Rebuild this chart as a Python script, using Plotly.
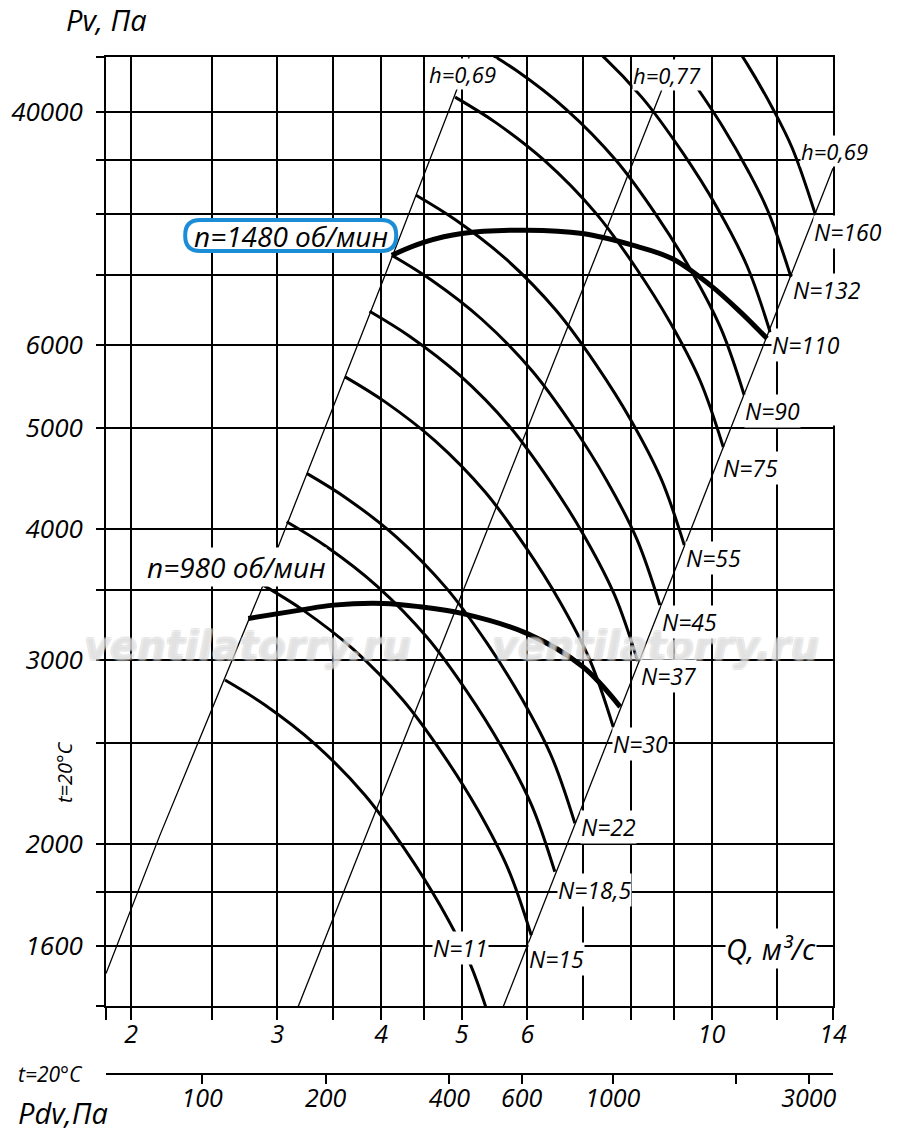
import plotly.graph_objects as go

# ---------------- axis values ----------------
q_ticks = [1.866, 2, 2.5, 3, 3.5, 4, 4.5, 5, 6, 7, 8, 9, 10, 12, 14]
q_labels = ["", "2", "", "3", "", "4", "", "5", "6", "", "", "", "10", "", "14"]
pv_ticks = [1400, 1600, 1800, 2000, 2500, 3000, 3500, 4000, 5000, 6000, 7000, 8000, 9000, 10000, 11294]
pv_labels = ["", "1600", "", "2000", "", "3000", "", "4000", "5000", "6000", "", "", "", "40000", ""]
pdv_ticks = [100, 200, 400, 600, 1000, 2000, 3000]
pdv_labels = ["100", "200", "400", "600", "1000", "", "3000"]

# ---------------- efficiency (h) lines ----------------
h_left_q = [1.866, 2.167, 2.884, 4.022, 4.844, 5.106]
h_left_p = [1505, 2040, 3535, 6912, 10112, 11294]
h_mid_q = [3.18, 9.03]
h_mid_p = [1400, 11294]
h_right_q = [5.615, 14.0]
h_right_p = [1400, 8844]

# ---------------- fan curves (Q m3/s, Pv Pa) ----------------
q_n11 = [2.595, 2.899, 3.331, 3.826, 4.275, 4.711, 5.120, 5.457]
p_n11 = [2869, 2716, 2492, 2227, 1976, 1748, 1537, 1329]
q_n15 = [2.884, 3.222, 3.702, 4.252, 4.751, 5.236, 5.690, 6.065]
p_n15 = [3535, 3346, 3071, 2744, 2435, 2153, 1893, 1637]
q_n185 = [3.079, 3.440, 3.952, 4.540, 5.073, 5.590, 6.075, 6.475]
p_n185 = [4064, 3847, 3530, 3154, 2799, 2475, 2177, 1882]
q_n22 = [3.255, 3.637, 4.178, 4.800, 5.363, 5.909, 6.422, 6.845]
p_n22 = [4520, 4278, 3927, 3508, 3113, 2753, 2421, 2094]
q_n30 = [3.620, 4.045, 4.647, 5.338, 5.964, 6.572, 7.142, 7.612]
p_n30 = [5589, 5290, 4855, 4338, 3849, 3404, 2993, 2589]
q_n37 = [3.874, 4.328, 4.973, 5.712, 6.382, 7.033, 7.643, 8.147]
p_n37 = [6457, 6112, 5609, 5011, 4447, 3933, 3458, 2991]
q_n45 = [4.120, 4.603, 5.288, 6.075, 6.788, 7.479, 8.128, 8.664]
p_n45 = [7303, 6912, 6344, 5668, 5030, 4448, 3911, 3383]
q_n55 = [4.408, 4.925, 5.658, 6.500, 7.262, 8.002, 8.697, 9.270]
p_n55 = [8333, 7887, 7239, 6467, 5739, 5076, 4463, 3860]
q_n75 = [4.911, 5.487, 6.304, 7.241, 8.091, 8.915, 9.689, 10.327]
p_n75 = [10340, 9787, 8982, 8025, 7121, 6298, 5538, 4790]
q_n90 = [5.205, 5.816, 6.681, 7.675, 8.575, 9.449, 10.269, 10.946]
p_n90 = [11588, 10968, 10066, 8994, 7981, 7058, 6207, 5368]
q_n110 = [5.594, 6.250, 7.181, 8.248, 9.216, 10.155, 11.036, 11.764]
p_n110 = [13309, 12597, 11562, 10329, 9166, 8107, 7128, 6165]
q_n132 = [9.628, 10.317, 11.059, 11.689, 12.460]
p_n132 = [10526, 9684, 8800, 8050, 6962]
q_n160 = [10.443, 11.038, 11.832, 12.506, 13.330]
p_n160 = [11883, 11118, 10102, 9241, 7992]

# ---------------- speed lines ----------------
q_n1480 = [4.120, 4.519, 5.003, 5.992, 6.990, 8.031, 8.958, 9.961, 10.826, 11.658]
p_n1480 = [7303, 7520, 7660, 7716, 7660, 7466, 7250, 6838, 6448, 6081]
q_n980 = [2.768, 3.195, 3.504, 4.025, 4.457, 5.003, 5.992, 6.998, 7.761]
p_n980 = [3285, 3346, 3383, 3396, 3371, 3322, 3179, 2954, 2705]

fan_curves = [
    (q_n11, p_n11), (q_n15, p_n15), (q_n185, p_n185), (q_n22, p_n22),
    (q_n30, p_n30), (q_n37, p_n37), (q_n45, p_n45), (q_n55, p_n55),
    (q_n75, p_n75), (q_n90, p_n90), (q_n110, p_n110), (q_n132, p_n132),
    (q_n160, p_n160),
]

FONT = "Open Sans"
BLUE = "#1b8dd6"

fig = go.Figure()

for qq, pp in [(h_left_q, h_left_p), (h_mid_q, h_mid_p), (h_right_q, h_right_p)]:
    fig.add_trace(go.Scatter(x=qq, y=pp, mode="lines",
                             line=dict(color="black", width=1.3),
                             hoverinfo="skip", showlegend=False))

for qq, pp in fan_curves:
    fig.add_trace(go.Scatter(x=qq, y=pp, mode="lines",
                             line=dict(color="black", width=3, shape="spline", smoothing=1.0),
                             hoverinfo="skip", showlegend=False))

for qq, pp in [(q_n1480, p_n1480), (q_n980, p_n980)]:
    fig.add_trace(go.Scatter(x=qq, y=pp, mode="lines",
                             line=dict(color="black", width=5, shape="spline", smoothing=1.0),
                             hoverinfo="skip", showlegend=False))

# helper trace that carries the dynamic-pressure scale
fig.add_trace(go.Scatter(x=pdv_ticks, y=[pv_ticks[0]] * len(pdv_ticks), xaxis="x2", yaxis="y",
                         mode="markers", marker=dict(opacity=0, size=1),
                         hoverinfo="skip", showlegend=False))

# ---------------- layout geometry (pixels -> paper) ----------------
W, H = 900, 1135
ML, MR, MT, MB = 106, 67, 57, 61
PW = W - ML - MR
PH = H - MT - MB
plot_bottom_px = 1006.3


def px(x):
    return (x - ML) / PW


def py(y):
    return (H - MB - y) / PH


tick_font = dict(family=FONT, size=25, color="black", style="italic")

fig.update_layout(
    width=W, height=H,
    margin=dict(l=ML, r=MR, t=MT, b=MB),
    paper_bgcolor="white", plot_bgcolor="white",
    showlegend=False,
    xaxis=dict(
        type="log", range=[0.27091, 1.14613],
        domain=[0, 1], anchor="y",
        tickmode="array", tickvals=q_ticks, ticktext=q_labels,
        ticks="outside", ticklen=12, tickwidth=1.5, tickcolor="black",
        showgrid=True, gridcolor="black", gridwidth=1.5,
        showline=True, linecolor="black", linewidth=2, mirror=True,
        zeroline=False, tickfont=tick_font, ticklabelstandoff=-7,
    ),
    yaxis=dict(
        type="log", range=[3.14613, 4.05285],
        domain=[py(plot_bottom_px), 1],
        tickmode="array", tickvals=pv_ticks, ticktext=pv_labels,
        ticks="outside", ticklen=8, tickwidth=1.5, tickcolor="black",
        showgrid=True, gridcolor="black", gridwidth=1.5,
        showline=True, linecolor="black", linewidth=2, mirror=True,
        zeroline=False, tickfont=dict(family=FONT, size=26, color="black", style="italic"),
        ticklabelstandoff=8,
    ),
    xaxis2=dict(
        type="log", range=[1.7661, 3.5364],
        overlaying="x", anchor="free", position=0, side="bottom",
        tickmode="array", tickvals=pdv_ticks, ticktext=pdv_labels,
        ticks="outside", ticklen=9, tickwidth=1.5, tickcolor="black",
        showgrid=False, showline=True, linecolor="black", linewidth=2,
        zeroline=False, tickfont=tick_font, ticklabelstandoff=-7,
    ),
)

# the reference frame has no right border between the 7000 and 5000 grid lines
fig.add_shape(type="line", xref="paper", yref="paper", x0=1, x1=1,
              y0=py(425.5), y1=py(278), line=dict(color="white", width=4), layer="above")

# rounded blue box around n=1480 label
x0, x1 = px(185.2), px(396.2)
yt, yb = py(219.9), py(251.1)
rx, ry = 15 / PW, 15 / PH
path = (f"M {x0+rx},{yt} L {x1-rx},{yt} Q {x1},{yt} {x1},{yt-ry} "
        f"L {x1},{yb+ry} Q {x1},{yb} {x1-rx},{yb} L {x0+rx},{yb} "
        f"Q {x0},{yb} {x0},{yb+ry} L {x0},{yt-ry} Q {x0},{yt} {x0+rx},{yt} Z")
fig.add_shape(type="path", path=path, xref="paper", yref="paper",
              fillcolor="white", line=dict(color=BLUE, width=4), layer="above")

annotations = []


def label(text, x, y, size=23, bg="white", angle=0, color="black", family=FONT,
          shadow=None, weight="normal"):
    f = dict(family=family, size=size, color=color, style="italic", weight=weight)
    if shadow:
        f["shadow"] = shadow
    annotations.append(dict(text=text, x=px(x), y=py(y), xref="paper", yref="paper",
                            showarrow=False, font=f, bgcolor=bg, borderpad=0,
                            textangle=angle, xanchor="center", yanchor="middle"))


# watermark (hollow light-grey lettering)
wm_shadow = "-1px -1px 0 #cccccc, 1px -1px 0 #cccccc, -1px 1px 0 #cccccc, 1px 1px 0 #cccccc"
label("ventilatorry.ru", 247, 646, size=40, bg="rgba(0,0,0,0)", color="rgba(255,255,255,0.3)",
      family="DejaVu Sans", shadow=wm_shadow, weight="bold")
label("ventilatorry.ru", 655, 646, size=40, bg="rgba(0,0,0,0)", color="rgba(255,255,255,0.3)",
      family="DejaVu Sans", shadow=wm_shadow, weight="bold")

# power labels
n_labels = [
    ("N=160", 848, 232), ("N=132", 827, 290), ("N=110", 806, 345), ("N=90", 772, 411),
    ("N=75", 750, 468), ("N=55", 713, 558), ("N=45", 689, 622), ("N=37", 668, 676),
    ("N=30", 640, 744), ("N=22", 608, 827), ("N=18,5", 594, 890), ("N=15", 556, 959),
    ("N=11", 460, 948),
]
for t, x, y in n_labels:
    label(t, x, y, size=23)

label("h=0,69", 462, 74, size=22)
label("h=0,77", 667, 75, size=22)
label("h=0,69", 835, 151, size=22)

label("n=1480 об/мин", 291, 236, size=28, bg="rgba(0,0,0,0)")
label("n=980 об/мин", 236, 567, size=28)
label("Q, м³/с", 771, 948, size=29)
label("Pv, Па", 106, 20, size=29, bg="rgba(0,0,0,0)")
label("Pdv,Па", 63, 1112, size=29, bg="rgba(0,0,0,0)")
label("t=20°C", 50, 1074, size=21, bg="rgba(0,0,0,0)")
label("t=20°C", 64, 772, size=20, bg="rgba(0,0,0,0)", angle=-90)

fig.update_layout(annotations=annotations)

fig.write_html("out.html", config={"displayModeBar": False},
               post_script="document.body.style.margin='0';")
